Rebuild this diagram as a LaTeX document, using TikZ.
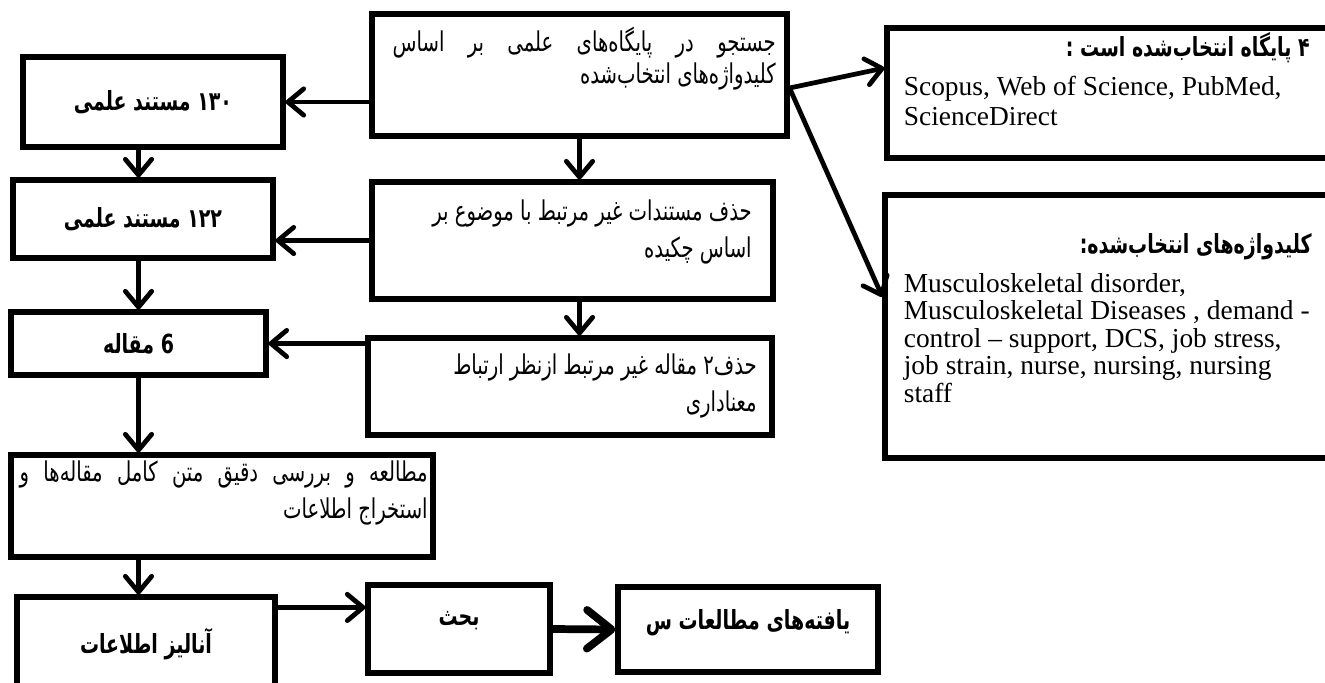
\documentclass[tikz,border=0pt]{standalone}
\usepackage{fontspec}
\setmainfont{Liberation Serif}
\newfontfamily\fafont[Script=Arabic, FakeStretch=0.72]{DejaVu Sans}
\usetikzlibrary{arrows.meta,positioning}
\TeXXeTstate=1
\newcommand{\rl}[1]{\beginR #1\endR}
\newcommand{\jline}[2]{\hbox to #1{\beginR #2\endR}}
\tikzset{
  box/.style={draw, rectangle, line width=2.9pt, inner sep=0pt},
  fa/.style={font={\fafont\fontsize{15.5}{21.5}\selectfont}, align=right, inner sep=0pt},
  fabold/.style={font={\fafont\bfseries\fontsize{15}{16}\selectfont}},
  en/.style={font={\fontsize{15.6}{15.6}\selectfont}, align=left, inner sep=0pt},
  arr/.style={-{Straight Barb[round, length=9pt, width=15pt]}, line width=2.7pt},
  bigarr/.style={-{Straight Barb[round, length=14pt, width=22pt]}, line width=4.4pt},
}

\begin{document}
\begin{tikzpicture}
        \useasboundingbox (0,0) rectangle (26.5,-13.64);
        % Middle column - search and filtering
        \node[box, minimum width=8.3cm, minimum height=2.44cm] (search) at (11.59,-1.5) {};
        \node[fa, anchor=north east] (searchtxt) at (15.52,-0.54) {\jline{7.66cm}{جستجو\hfill در\hfill پایگاه‌های\hfill علمی\hfill بر\hfill اساس}\\[-3.5pt] \rl{کلیدواژه‌های انتخاب‌شده}};
        \node[box, minimum width=8.02cm, minimum height=2.34cm] (remA) at (11.45,-4.81) {};
        \node[fa, anchor=north east] (remAtxt) at (15.04,-3.98) {\rl{حذف مستندات غیر مرتبط با موضوع بر}\\ \rl{اساس چکیده}};
        \node[box, minimum width=8.08cm, minimum height=1.94cm] (remB) at (11.4,-7.73) {};
        \node[fa, anchor=north east] (remBtxt) at (15.14,-7.06) {\rl{حذف۲ مقاله غیر مرتبط ازنظر ارتباط}\\ \rl{معناداری}};

        % Left column - counts
        \node[box, fabold, minimum width=5.2cm, minimum height=1.8cm] (n130) at (3.06,-2.04) {\rl{۱۳۰ مستند علمی}};
        \node[box, fabold, minimum width=5.2cm, minimum height=1.56cm] (n122) at (2.86,-4.38) {\rl{۱۲۲ مستند علمی}};
        \node[box, fabold, minimum width=5.1cm, minimum height=1.26cm] (n6) at (2.77,-6.87) {\rl{6 مقاله}};
        \node[box, minimum width=8.44cm, minimum height=2.04cm] (study) at (4.44,-10.12) {};
        \node[fa, anchor=north east] (studytxt) at (8.56,-9.2) {\jline{8.16cm}{مطالعه\hfill و\hfill بررسی\hfill دقیق\hfill متن\hfill کامل\hfill مقاله‌ها\hfill و}\\ \rl{استخراج اطلاعات}};
        \node[box, fabold, minimum width=5.16cm, minimum height=1.9cm] (analysis) at (2.92,-12.89) {\rl{آنالیز اطلاعات}};

        % Bottom row
        \node[box, fabold, text depth=0.42cm, minimum width=3.64cm, minimum height=1.76cm] (bahs) at (9.18,-12.58) {\rl{بحث}};
        \node[box, fabold, text depth=0.42cm, minimum width=5.2cm, minimum height=1.7cm] (yafteh) at (14.96,-12.59) {\rl{یافته‌های مطالعات س}};

        % Right column - notes
        \node[box, minimum width=9.06cm, minimum height=2.6cm] (db) at (22.27,-1.86) {};
        \node[fabold, anchor=east, inner sep=0pt] (dbhead) at (26.2,-0.96) {\rl{۴ پایگاه انتخاب‌شده است :}};
        \node[en, anchor=north west] (dblist) at (18.07,-1.52) {Scopus, Web of Science, PubMed,\\[1.4pt] ScienceDirect};
        \node[box, minimum width=9.1cm, minimum height=5.26cm] (keys) at (22.25,-6.53) {};
        \node[fabold, anchor=east, inner sep=0pt] (keyshead) at (26.24,-4.94) {\rl{کلیدواژه‌های انتخاب‌شده:}};
        \node[en, anchor=north west] (keyslist) at (18.07,-5.46) {Musculoskeletal disorder,\\ Musculoskeletal Diseases , demand -\\ control -- support, DCS, job stress,\\ job strain, nurse, nursing, nursing\\ staff};

        % Connectors
        \coordinate (fork) at ([yshift=-0.26cm]search.east);
        \draw[arr] (search.west |- n130.east) -- (n130.east);
        \draw[arr] (search.south) -- (search.south |- remA.north);
        \draw[arr] (remA.west) -- (remA.west -| n122.east);
        \draw[arr] (search.south |- remA.south) -- (search.south |- remB.north);
        \draw[arr] (remB.west |- n6.east) -- (n6.east);
        \draw[arr] (n6.north |- n130.south) -- (n6.north |- n122.north);
        \draw[arr] (n122.south -| n6.north) -- (n6.north);
        \draw[arr] (n6.south) -- (n6.south |- study.north);
        \draw[arr] (n6.south |- study.south) -- (n6.south |- analysis.north);
        \draw[arr] ([yshift=-0.26cm]analysis.north east) -- ([yshift=-0.26cm]analysis.north east -| bahs.west);
        \draw[bigarr] (bahs.east) -- (yafteh.west);
        \draw[arr] (fork) -- ([yshift=0.5cm]db.west);
        \draw[arr] (fork) -- ([yshift=0.59cm]keys.west);
\end{tikzpicture}
\end{document}
